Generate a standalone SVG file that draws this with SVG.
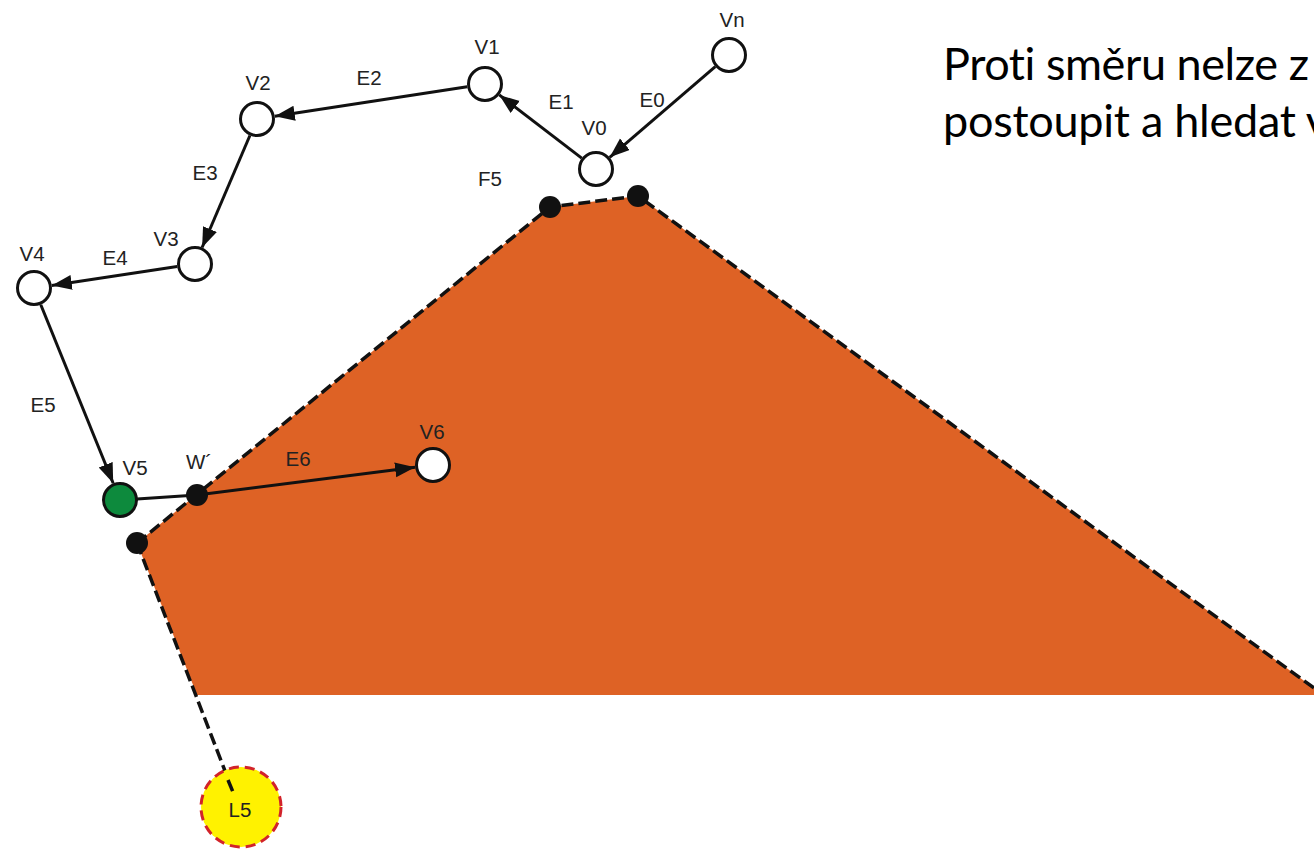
<svg xmlns="http://www.w3.org/2000/svg" width="1314" height="849" viewBox="0 0 1314 849">
  <defs>
    <marker id="arr" markerUnits="userSpaceOnUse" markerWidth="21" markerHeight="16" refX="20" refY="7.5" orient="auto">
      <path d="M0,0 L20,7.5 L0,15 z" fill="#111"/>
    </marker>
    <style>
      .lbl{font-family:"Liberation Sans",Arial,sans-serif;font-size:20.5px;fill:#222;text-anchor:middle}
      .node{fill:#fff;stroke:#111;stroke-width:3}
      .edge{stroke:#111;stroke-width:3;fill:none}
      .dash{stroke:#111;stroke-width:3.5;fill:none;stroke-dasharray:12 5}
      .dot{fill:#111}
      .big{font-family:Lato,"Open Sans",sans-serif;font-size:45px;fill:#000;font-variant-ligatures:none}
    </style>
  </defs>
  <rect width="1314" height="849" fill="#fff"/>

  <g id="face-F5">
    <polygon points="137,543 550,207 638,196 1314,688 1314,695 197,695" fill="#DE6225"/>
    <polyline class="dash" points="137,543 550,207 638,196 1314,688"/>
    <line class="dash" x1="137" y1="543" x2="232" y2="789"/>
    <text class="lbl" x="490" y="186">F5</text>
  </g>

  <g id="L5">
    <circle cx="241" cy="807" r="40" fill="#FFF200" stroke="#D2232A" stroke-width="3" stroke-dasharray="10 6"/>
    <line class="dash" x1="228" y1="780" x2="233" y2="792"/>
    <text class="lbl" x="240" y="817">L5</text>
  </g>

  <g id="connectors">
    <line class="edge" x1="715.3" y1="66.7" x2="609.7" y2="157.3" marker-end="url(#arr)"/>
    <line class="edge" x1="581.7" y1="158.1" x2="499.3" y2="94.9" marker-end="url(#arr)"/>
    <line class="edge" x1="467.2" y1="86.7" x2="274.8" y2="116.3" marker-end="url(#arr)"/>
    <line class="edge" x1="249.9" y1="135.5" x2="202.1" y2="247.5" marker-end="url(#arr)"/>
    <line class="edge" x1="177.2" y1="266.6" x2="51.8" y2="285.4" marker-end="url(#arr)"/>
    <line class="edge" x1="40.8" y1="304.7" x2="113.2" y2="483.3" marker-end="url(#arr)"/>
    <line class="edge" x1="137" y1="499" x2="197" y2="495" stroke-width="2.5"/>
    <line class="edge" x1="197" y1="495" x2="415.1" y2="467.3" marker-end="url(#arr)"/>
    <text class="lbl" x="652" y="107">E0</text>
    <text class="lbl" x="561" y="109">E1</text>
    <text class="lbl" x="369" y="85">E2</text>
    <text class="lbl" x="205" y="180">E3</text>
    <text class="lbl" x="115" y="265">E4</text>
    <text class="lbl" x="43" y="412">E5</text>
    <text class="lbl" x="298" y="466">E6</text>
  </g>

  <g id="Vn"><circle class="node" cx="729" cy="55" r="16.5"/><text class="lbl" x="732" y="27">Vn</text></g>
  <g id="V0"><circle class="node" cx="596" cy="169" r="16.5"/><text class="lbl" x="594" y="135">V0</text></g>
  <g id="V1"><circle class="node" cx="485" cy="84" r="16.5"/><text class="lbl" x="487" y="54">V1</text></g>
  <g id="V2"><circle class="node" cx="257" cy="119" r="16.5"/><text class="lbl" x="258" y="90">V2</text></g>
  <g id="V3"><circle class="node" cx="195" cy="264" r="16.5"/><text class="lbl" x="166" y="246">V3</text></g>
  <g id="V4"><circle class="node" cx="34" cy="288" r="16.5"/><text class="lbl" x="32" y="261">V4</text></g>
  <g id="V5"><circle class="node" cx="120" cy="500" r="16.5" style="fill:#0D8A3D"/><text class="lbl" x="135" y="475">V5</text></g>
  <g id="V6"><circle class="node" cx="433" cy="465" r="16.5"/><text class="lbl" x="432" y="439">V6</text></g>
  <g id="W"><circle class="dot" cx="197" cy="495" r="11"/><text class="lbl" x="199" y="469">W´</text></g>
  <g id="dots">
    <circle class="dot" cx="137" cy="543" r="11"/>
    <circle class="dot" cx="550" cy="207" r="11"/>
    <circle class="dot" cx="638" cy="196" r="11"/>
  </g>

  <g id="caption">
    <text class="big" x="943" y="80" textLength="366" lengthAdjust="spacing">Proti směru nelze z</text>
    <text class="big" x="943" y="137" textLength="386" lengthAdjust="spacing">postoupit a hledat v</text>
  </g>
</svg>
